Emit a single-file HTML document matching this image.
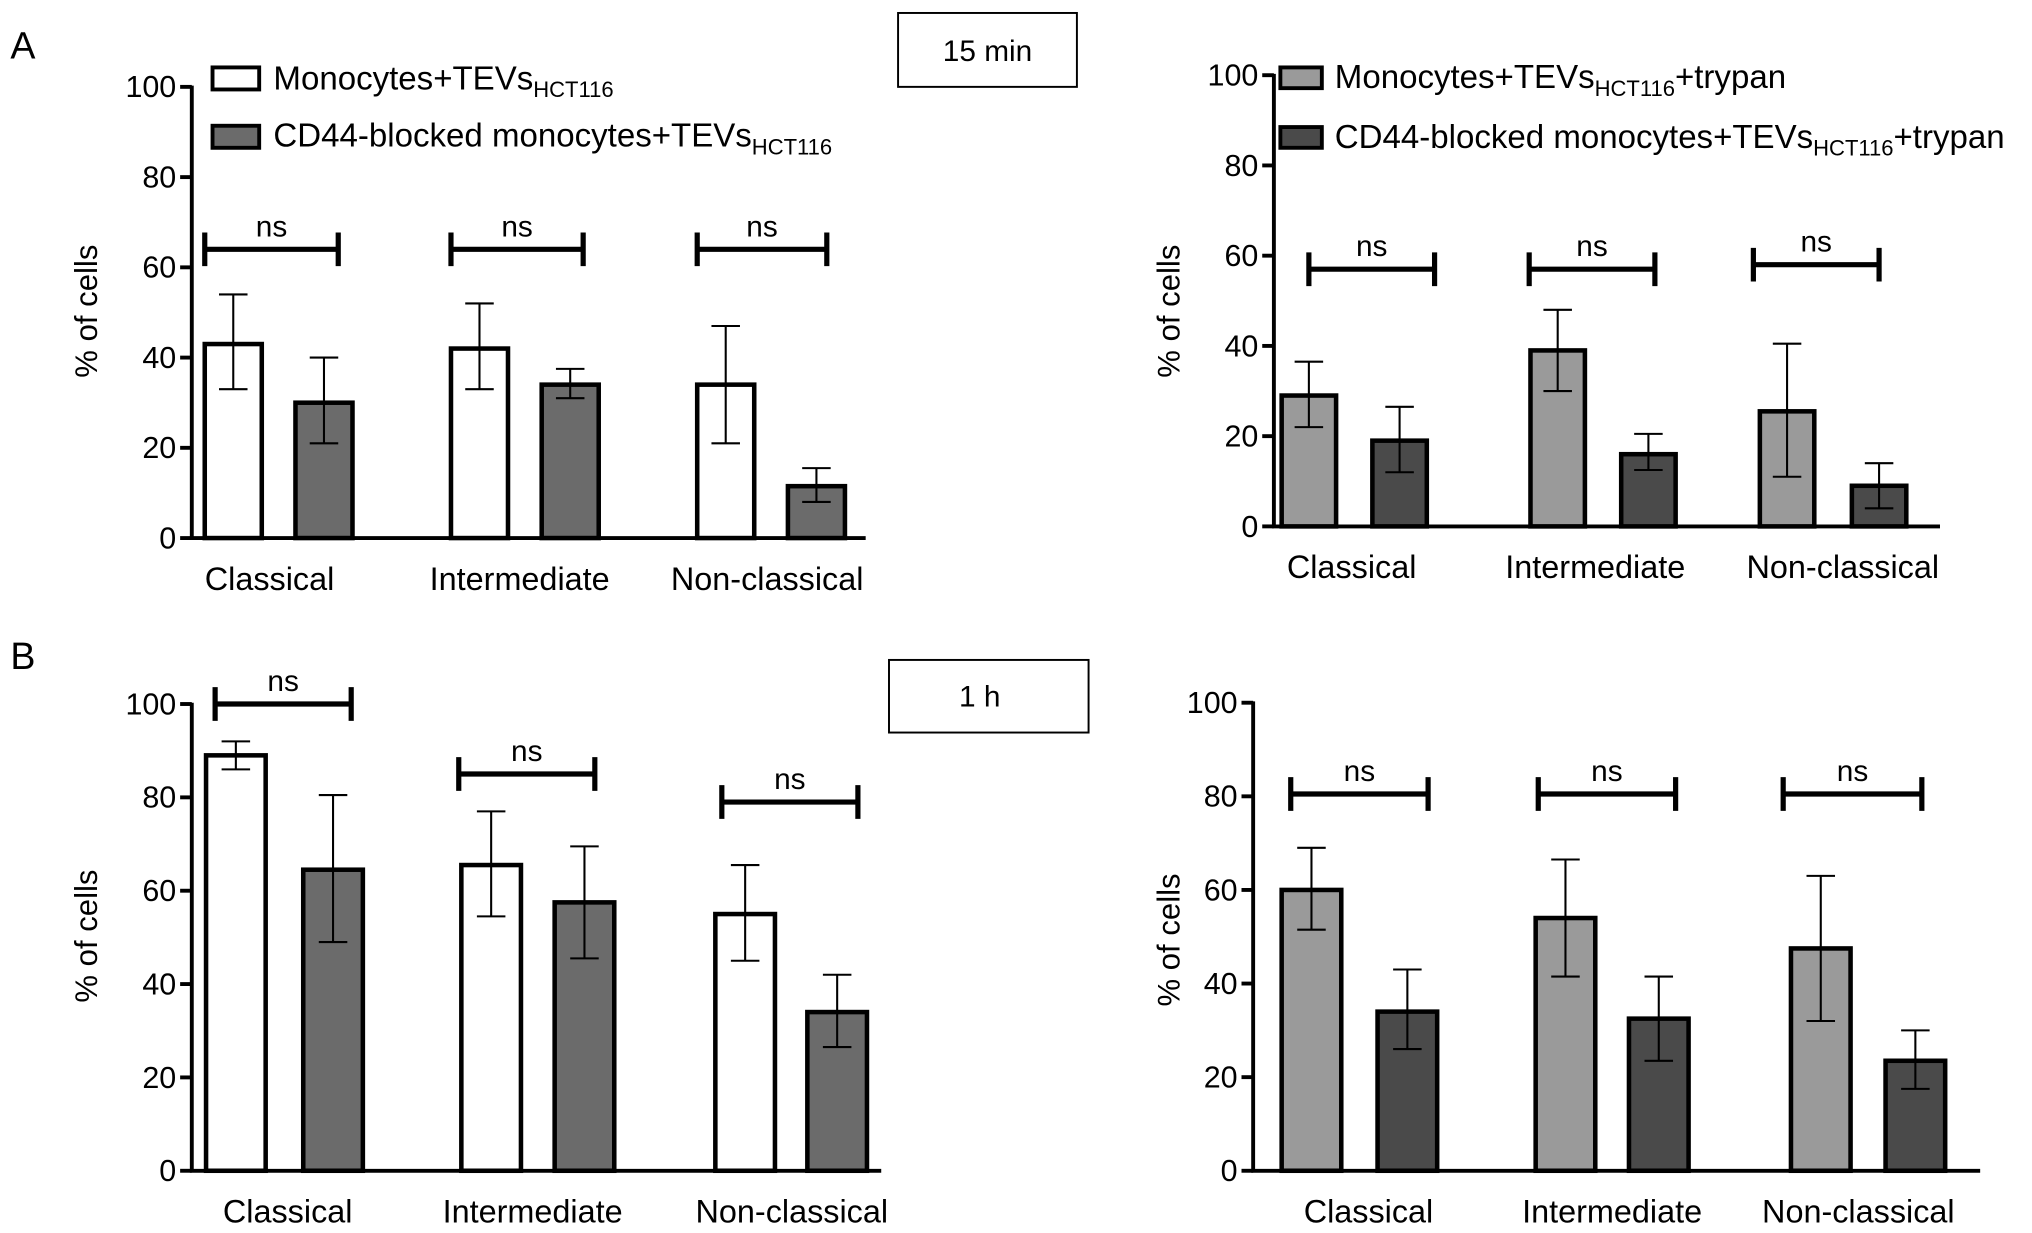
<!DOCTYPE html>
<html><head><meta charset="utf-8"><style>
html,body{margin:0;padding:0;background:#fff;}
svg{display:block;font-family:"Liberation Sans",Arial,sans-serif;}
</style></head><body>
<svg id="fig" width="2032" height="1233" viewBox="0 0 1568 951" preserveAspectRatio="none" xmlns="http://www.w3.org/2000/svg">
<rect width="1568" height="951" fill="#fff"/>
<text x="8" y="45" font-size="29">A</text>
<text x="8" y="516" font-size="29">B</text>
<g><rect x="693" y="10" width="138" height="57" fill="#fff" stroke="#000" stroke-width="1.5"/><text x="762" y="47" font-size="23" text-anchor="middle">15 min</text></g>
<g><rect x="686" y="509" width="154" height="56" fill="#fff" stroke="#000" stroke-width="1.5"/><text x="756" y="545" font-size="23" text-anchor="middle">1 h</text></g>
<g>
<rect x="164" y="52" width="36" height="17" fill="#fff" stroke="#000" stroke-width="3"/>
<text x="211" y="69" font-size="25.5">Monocytes+TEVs<tspan font-size="17" dy="6">HCT116</tspan></text>
<rect x="164" y="97" width="36" height="17" fill="#6b6b6b" stroke="#000" stroke-width="3"/>
<text x="211" y="113" font-size="25.5">CD44-blocked monocytes+TEVs<tspan font-size="17" dy="6">HCT116</tspan></text>
</g>
<g>
<rect x="988" y="52" width="32" height="16" fill="#9a9a9a" stroke="#000" stroke-width="3"/>
<text x="1030" y="68" font-size="25.5">Monocytes+TEVs<tspan font-size="17" dy="6">HCT116</tspan><tspan dy="-6">+trypan</tspan></text>
<rect x="988" y="98" width="32" height="16" fill="#4a4a4a" stroke="#000" stroke-width="3"/>
<text x="1030" y="114" font-size="25.5">CD44-blocked monocytes+TEVs<tspan font-size="17" dy="6">HCT116</tspan><tspan dy="-6">+trypan</tspan></text>
</g>
</svg>
<script>
const categories = ["Classical","Intermediate","Non-classical"];
const yTicks = [0,20,40,60,80,100];
// Panel A left (15 min)
const aL_s1 = [43,42,34], aL_s1_lo=[33,33,21], aL_s1_hi=[54,52,47];
const aL_s2 = [30,34,11.5], aL_s2_lo=[21,31,8], aL_s2_hi=[40,37.5,15.5];
const aL_sig = [64,64,64];
// Panel A right
const aR_s1 = [29,39,25.5], aR_s1_lo=[22,30,11], aR_s1_hi=[36.5,48,40.5];
const aR_s2 = [19,16,9], aR_s2_lo=[12,12.5,4], aR_s2_hi=[26.5,20.5,14];
const aR_sig = [57,57,58];
// Panel B left (1 h)
const bL_s1 = [89,65.5,55], bL_s1_lo=[86,54.5,45], bL_s1_hi=[92,77,65.5];
const bL_s2 = [64.5,57.5,34], bL_s2_lo=[49,45.5,26.5], bL_s2_hi=[80.5,69.5,42];
const bL_sig = [100,85,79];
// Panel B right
const bR_s1 = [60,54,47.5], bR_s1_lo=[51.5,41.5,32], bR_s1_hi=[69,66.5,63];
const bR_s2 = [34,32.5,23.5], bR_s2_lo=[26,23.5,17.5], bR_s2_hi=[43,41.5,30];
const bR_sig = [80.5,80.5,80.5];

const NS="http://www.w3.org/2000/svg";
const svg=document.getElementById('fig');
function mk(tag,attrs,parent){const e=document.createElementNS(NS,tag);for(const k in attrs)e.setAttribute(k,attrs[k]);(parent||svg).appendChild(e);return e;}

function panel(cfg){
  const g=mk('g',{});
  
  
  const y=v=>cfg.y0-(cfg.y0-cfg.y100)*v/100;
  for(let i=0;i<3;i++){
    [[cfg.s1,cfg.s1lo,cfg.s1hi,cfg.c1[i],cfg.f1],[cfg.s2,cfg.s2lo,cfg.s2hi,cfg.c2[i],cfg.f2]].forEach((s,j)=>{
      const cx=s[3], w=cfg.bw;
      const b=mk('rect',{x:cx-w/2,y:y(s[0][i]),width:w,height:cfg.y0-y(s[0][i]),fill:s[4],stroke:'#000','stroke-width':3.5},g);
      
      
      const e=mk('path',{d:`M${cx},${y(s[1][i])}V${y(s[2][i])}M${cx-11},${y(s[1][i])}H${cx+11}M${cx-11},${y(s[2][i])}H${cx+11}`,stroke:'#000','stroke-width':1.6,fill:'none'},g);
      
      
    });
    const sy=y(cfg.sig[i]), x1=cfg.br[i][0], x2=cfg.br[i][1];
    const br=mk('path',{d:`M${x1},${sy-13}V${sy+13}M${x2},${sy-13}V${sy+13}M${x1},${sy}H${x2}`,stroke:'#000','stroke-width':4,fill:'none'},g);
    
    
    const t=mk('text',{x:(x1+x2)/2,y:sy-10,'font-size':23,'text-anchor':'middle'},g);
    t.textContent='ns';
    
    
    const cl=mk('text',{x:cfg.lab[i],y:cfg.y0+40,'font-size':25,'text-anchor':'middle'},g);
    cl.textContent=categories[i];
    
    
  }
  const ax=mk('path',{d:`M${cfg.ax},${cfg.y100-1}V${cfg.y0}H${cfg.xe}`,stroke:'#000','stroke-width':3,fill:'none'},g);
  
  
  yTicks.forEach(v=>{
    mk('line',{x1:cfg.ax-9,x2:cfg.ax,y1:y(v),y2:y(v),stroke:'#000','stroke-width':3},g);
    const t=mk('text',{x:cfg.ax-12,y:y(v)+8,'font-size':23.5,'text-anchor':'end'},g);
    t.textContent=v;
    
    
  });
  const yl=mk('text',{x:0,y:0,'font-size':24,'text-anchor':'middle',transform:`translate(${cfg.yl[0]},${cfg.yl[1]}) rotate(-90)`},g);
  yl.textContent='% of cells';
  
  
}

panel({name:'panel-a-left',y0:415,y100:67,ax:148,xe:668,bw:44,c1:[180,370,560],c2:[250,440,630],f1:'#fff',f2:'#6b6b6b',
 s1:aL_s1,s1lo:aL_s1_lo,s1hi:aL_s1_hi,s2:aL_s2,s2lo:aL_s2_lo,s2hi:aL_s2_hi,sig:aL_sig,br:[[158,261],[348,450],[538,638]],lab:[208,401,592],yl:[75,240]});
panel({name:'panel-a-right',y0:406,y100:58,ax:983,xe:1497,bw:42,c1:[1010,1202,1379],c2:[1080,1272,1450],f1:'#9a9a9a',f2:'#4a4a4a',
 s1:aR_s1,s1lo:aR_s1_lo,s1hi:aR_s1_hi,s2:aR_s2,s2lo:aR_s2_lo,s2hi:aR_s2_hi,sig:aR_sig,br:[[1010,1107],[1180,1277],[1353,1450]],lab:[1043,1231,1422],yl:[910,240]});
panel({name:'panel-b-left',y0:903,y100:543,ax:148,xe:680,bw:46,c1:[182,379,575],c2:[257,451,646],f1:'#fff',f2:'#6b6b6b',
 s1:bL_s1,s1lo:bL_s1_lo,s1hi:bL_s1_hi,s2:bL_s2,s2lo:bL_s2_lo,s2hi:bL_s2_hi,sig:bL_sig,br:[[166,271],[354,459],[557,662]],lab:[222,411,611],yl:[75,722]});
panel({name:'panel-b-right',y0:903,y100:542,ax:967,xe:1528,bw:46,c1:[1012,1208,1405],c2:[1086,1280,1478],f1:'#9a9a9a',f2:'#4a4a4a',
 s1:bR_s1,s1lo:bR_s1_lo,s1hi:bR_s1_hi,s2:bR_s2,s2lo:bR_s2_lo,s2hi:bR_s2_hi,sig:bR_sig,br:[[996,1102],[1187,1293],[1376,1483]],lab:[1056,1244,1434],yl:[910,725]});
</script>
</body></html>
